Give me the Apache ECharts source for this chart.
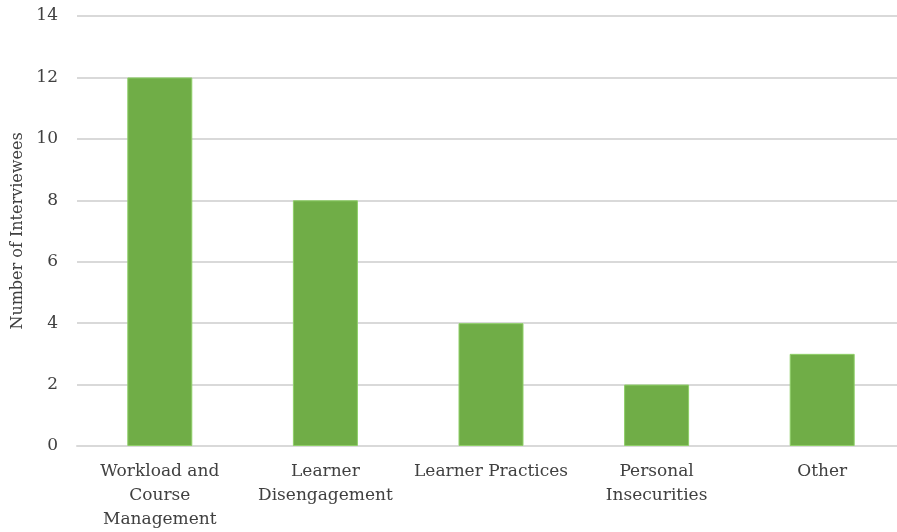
<!DOCTYPE html>
<html>
<head>
<meta charset="utf-8">
<script src="https://cdn.jsdelivr.net/npm/echarts@6/dist/echarts.min.js"></script>
<style>
  html, body { margin: 0; padding: 0; background: #fff; }
  #chart { width: 897px; height: 532px; }
</style>
</head>
<body>
<div id="chart"></div>
<script>
// Interview themes and how many interviewees raised each one
const categories = [
  'Workload and\nCourse\nManagement',
  'Learner\nDisengagement',
  'Learner Practices',
  'Personal\nInsecurities',
  'Other'
];
const interviewees = [12, 8, 4, 2, 3];
const yTicks = { min: 0, max: 14, interval: 2 };

const FONT = 'DejaVu Serif';
const TEXT = '#404040';

const chart = echarts.init(document.getElementById('chart'), null, { renderer: 'canvas' });
chart.setOption({
  animation: false,
  grid: {
    left: 77, top: 16, bottom: 86, width: 828,
    containLabel: false, outerBoundsMode: 'none'
  },
  xAxis: {
    type: 'category',
    data: categories,
    axisLine: { lineStyle: { color: '#d9d9d9', width: 2 } },
    axisTick: { show: false },
    axisLabel: {
      color: TEXT, fontFamily: FONT, fontSize: 17, lineHeight: 24,
      margin: 14, interval: 0
    }
  },
  yAxis: {
    type: 'value',
    min: yTicks.min, max: yTicks.max, interval: yTicks.interval,
    name: 'Number of Interviewees',
    nameLocation: 'middle',
    nameGap: 51,
    nameTextStyle: { color: TEXT, fontFamily: FONT, fontSize: 16 },
    axisLine: { show: false },
    axisTick: { show: false },
    axisLabel: { color: TEXT, fontFamily: FONT, fontSize: 17, margin: 19 },
    splitLine: { lineStyle: { color: '#d9d9d9', width: 2 } }
  },
  series: [{
    type: 'bar',
    data: interviewees,
    barWidth: 65,
    itemStyle: { color: '#70ad47', borderColor: '#8fcf68', borderWidth: 1 }
  }]
});
</script>
</body>
</html>
